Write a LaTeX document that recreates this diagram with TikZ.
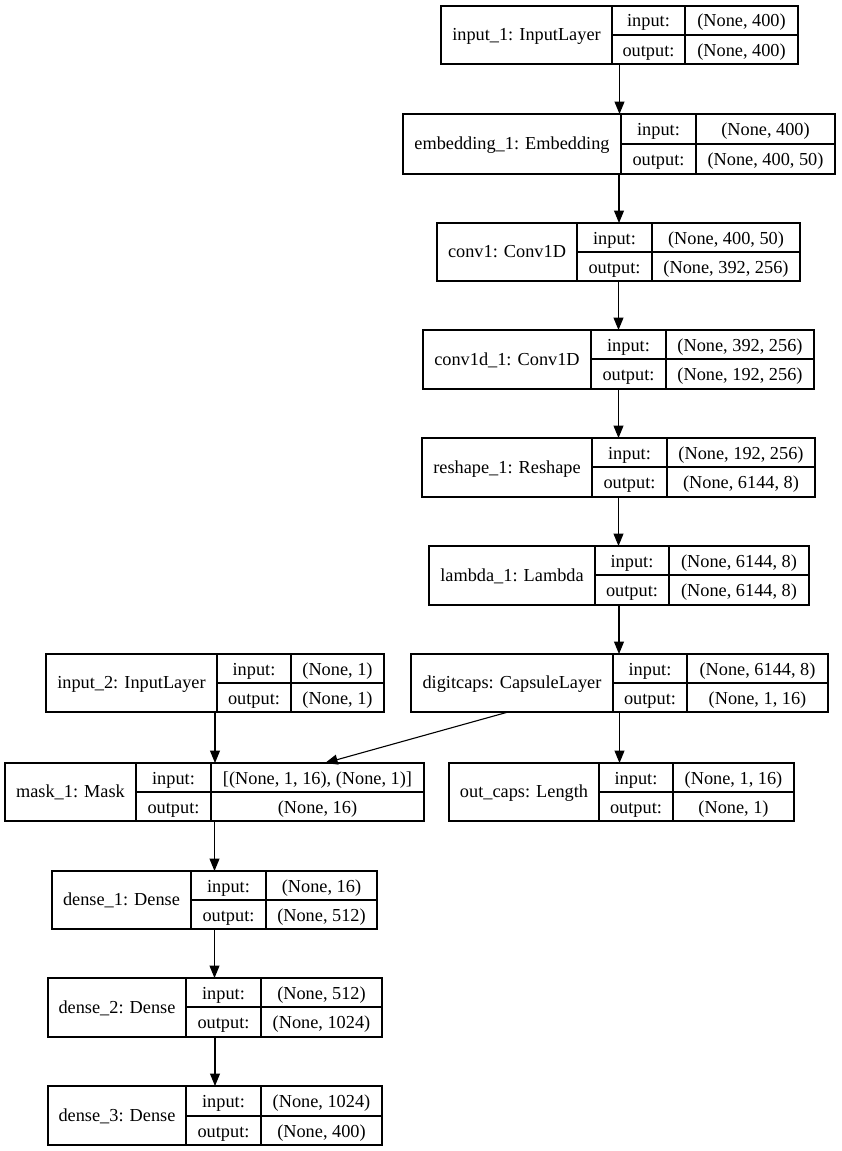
\documentclass[tikz,border=0pt]{standalone}
\usepackage{fontspec}
\setmainfont{Liberation Serif}
\usetikzlibrary{arrows.meta,calc}

\tikzset{
  layer/.style={draw=black, line width=1.2pt, rectangle, inner sep=0pt, outer sep=0pt},
  lbl/.style={inner sep=0pt, anchor=base, font=\fontsize{18.3}{21}\selectfont},
  flow/.style={draw=black, line width=1.1pt, -{Triangle[width=10pt,length=12.5pt]}}
}

% \layerbox{name}{x-left}{div1}{div2}{x-right}{y-top}{y-mid}{y-bottom}{label}
% text baselines sit about 6pt below the middle of each cell
\newcommand\layerbox[9]{%
  \node[layer, minimum width={#5-#2}, minimum height={#8-#6}] (#1)
        at ({(#2+#5)/2},{(#6+#8)/2}) {};
  \draw[line width=1.2pt] (#3,#6) -- (#3,#8) (#4,#6) -- (#4,#8) (#3,#7) -- (#5,#7);
  \node[lbl] (#1-name) at ({(#2+#3)/2},{(#6+#8)/2+5.7}) {#9};
  \node[lbl] (#1-inkey) at ({(#3+#4)/2},{(#6+#7)/2+6.5}) {input:};
  \node[lbl] (#1-outkey) at ({(#3+#4)/2},{(#7+#8)/2+6.5}) {output:};
  \coordinate (#1-inval) at ({(#4+#5)/2},{(#6+#7)/2+6.5});
  \coordinate (#1-outval) at ({(#4+#5)/2},{(#7+#8)/2+6.5});
}
% \layershapes{name}{input shape}{output shape}
\newcommand\layershapes[3]{%
  \node[lbl] (#1-in) at (#1-inval) {#2};
  \node[lbl] (#1-out) at (#1-outval) {#3};
}

\begin{document}
\begin{tikzpicture}[x=1pt, y=-1pt]
  \path[use as bounding box, fill=white] (0,0) rectangle (841,1151);

  % main branch
  \layerbox{in1}{441}{612}{685}{798}{6}{35}{64}{input\_1: InputLayer}
  \layershapes{in1}{(None, 400)}{(None, 400)}

  \layerbox{emb}{403}{621}{696}{835}{114}{144}{174}{embedding\_1: Embedding}
  \layershapes{emb}{(None, 400)}{(None, 400, 50)}

  \layerbox{cv1}{437}{577}{652}{800}{223}{252}{281}{conv1: Conv1D}
  \layershapes{cv1}{(None, 400, 50)}{(None, 392, 256)}

  \layerbox{cv2}{423}{591}{666}{814}{330}{359}{389}{conv1d\_1: Conv1D}
  \layershapes{cv2}{(None, 392, 256)}{(None, 192, 256)}

  \layerbox{rsh}{422}{592}{667}{815}{438}{467}{497}{reshape\_1: Reshape}
  \layershapes{rsh}{(None, 192, 256)}{(None, 6144, 8)}

  \layerbox{lam}{429}{595}{669}{809}{546}{575}{605}{lambda\_1: Lambda}
  \layershapes{lam}{(None, 6144, 8)}{(None, 6144, 8)}

  \layerbox{dc}{411}{613}{687}{828}{654}{683}{712}{digitcaps: CapsuleLayer}
  \layershapes{dc}{(None, 6144, 8)}{(None, 1, 16)}

  \layerbox{in2}{46}{217}{291}{384}{654}{683}{712}{input\_2: InputLayer}
  \layershapes{in2}{(None, 1)}{(None, 1)}

  \layerbox{mask}{5}{136}{211}{424}{763}{792}{821}{mask\_1: Mask}
  \layershapes{mask}{[(None, 1, 16), (None, 1)]}{(None, 16)}

  \layerbox{oc}{449}{599}{673}{794}{763}{792}{821}{out\_caps: Length}
  \layershapes{oc}{(None, 1, 16)}{(None, 1)}

  % decoder
  \layerbox{d1}{52}{191}{266}{377}{871}{900}{929}{dense\_1: Dense}
  \layershapes{d1}{(None, 16)}{(None, 512)}

  \layerbox{d2}{48}{186}{261}{382}{978}{1007}{1037}{dense\_2: Dense}
  \layershapes{d2}{(None, 512)}{(None, 1024)}

  \layerbox{d3}{48}{186}{261}{382}{1086}{1116}{1145}{dense\_3: Dense}
  \layershapes{d3}{(None, 1024)}{(None, 400)}

  % connectors
  \draw[flow] (in1.south) -- (in1.south |- emb.north);
  \draw[flow] (emb.south) -- (emb.south |- cv1.north);
  \draw[flow] (cv1.south) -- (cv1.south |- cv2.north);
  \draw[flow] (cv2.south) -- (cv2.south |- rsh.north);
  \draw[flow] (rsh.south) -- (rsh.south |- lam.north);
  \draw[flow] (lam.south) -- (lam.south |- dc.north);
  \draw[flow] (dc.south) -- (dc.south |- oc.north);
  \draw[flow] ($(dc.south west)!0.233!(dc.south east)$) -- ($(mask.north west)!0.764!(mask.north east)$);
  \draw[flow] (in2.south) -- (in2.south |- mask.north);
  \draw[flow] (mask.south) -- (mask.south |- d1.north);
  \draw[flow] (d1.south) -- (d1.south |- d2.north);
  \draw[flow] (d2.south) -- (d2.south |- d3.north);
\end{tikzpicture}
\end{document}
